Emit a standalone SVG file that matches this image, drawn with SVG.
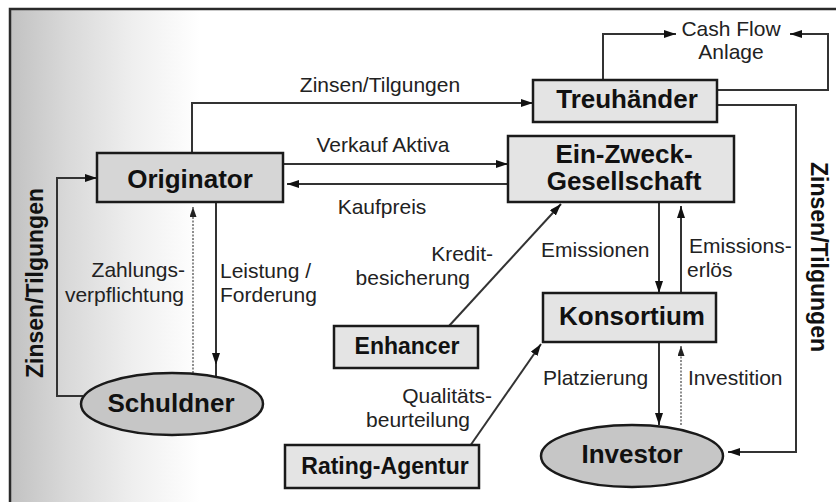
<svg xmlns="http://www.w3.org/2000/svg" width="836" height="502" viewBox="0 0 836 502">
  <defs>
    <linearGradient id="bgGrad" gradientUnits="userSpaceOnUse" x1="11" y1="0" x2="200" y2="0">
      <stop offset="0" stop-color="#c2c2c2"/>
      <stop offset="0.3" stop-color="#d9d9d9"/>
      <stop offset="0.65" stop-color="#efefef"/>
      <stop offset="1" stop-color="#ffffff"/>
    </linearGradient>
    <marker id="arr" viewBox="0 0 12 8" refX="12" refY="4" markerWidth="12" markerHeight="8" markerUnits="userSpaceOnUse" orient="auto">
      <path d="M0,0 L12,4 L0,8 z" fill="#111"/>
    </marker>
    <marker id="arrS" viewBox="0 0 10 7" refX="10" refY="3.5" markerWidth="10" markerHeight="7" markerUnits="userSpaceOnUse" orient="auto">
      <path d="M0,0 L10,3.5 L0,7 z" fill="#222"/>
    </marker>
  </defs>
  <style>
    .box { fill: #e4e4e4; stroke: #1a1a1a; stroke-width: 2.5; }
    .boxd { fill: #d6d6d6; stroke: #1a1a1a; stroke-width: 2.5; }
    .ell { fill: #c6c6c6; stroke: #1a1a1a; stroke-width: 2.5; }
    .nl { font-family: "Liberation Sans", Arial, sans-serif; font-weight: bold; font-size: 26px; fill: #111; text-anchor: middle; }
    .nls { font-family: "Liberation Sans", Arial, sans-serif; font-weight: bold; font-size: 23px; fill: #111; text-anchor: middle; }
    .el { font-family: "Liberation Sans", Arial, sans-serif; font-size: 21px; fill: #222; }
    .vl { font-family: "Liberation Sans", Arial, sans-serif; font-weight: bold; font-size: 23px; fill: #111; text-anchor: middle; }
    .c { fill: none; stroke: #333; stroke-width: 2; marker-end: url(#arr); }
    .ct { fill: none; stroke: #444; stroke-width: 1.2; stroke-dasharray: 2 1.5; marker-end: url(#arrS); }
    .cn { fill: none; stroke: #333; stroke-width: 2; }
  </style>

  <!-- background shading and frame -->
  <rect x="11" y="10" width="200" height="492" fill="url(#bgGrad)"/>
  <path d="M10,502 V9 H836" fill="none" stroke="#2a2a2a" stroke-width="2.5"/>

  <!-- connectors -->
  <g id="connectors">
    <path class="c" d="M192,153 V103 H533"/>
    <path class="c" d="M283,164 H508"/>
    <path class="c" d="M508,184 H287"/>
    <path class="c" d="M603,80 V34 H676"/>
    <path class="c" d="M717,90 H828 V34 H790"/>
    <path class="c" d="M717,105 H796 V452 H728"/>
    <path class="c" d="M659,202 V293"/>
    <path class="c" d="M681,293 V206"/>
    <path class="c" d="M659,342 V425"/>
    <path class="ct" d="M681,425 V346"/>
    <path class="c" d="M449,326 L561,204"/>
    <path class="c" d="M470,446 L541,344"/>
    <path class="c" d="M216,202 V365"/>
    <path class="cn" d="M216,364 V376"/>
    <path class="ct" d="M193,373 V207"/>
    <path class="c" d="M83,396 H57 V178 H97"/>

    <text class="el" x="380" y="92" text-anchor="middle">Zinsen/Tilgungen</text>
    <text class="el" x="383" y="152" text-anchor="middle">Verkauf Aktiva</text>
    <text class="el" x="382" y="214" text-anchor="middle">Kaufpreis</text>
    <text class="el" x="731" y="36" text-anchor="middle">Cash Flow</text>
    <text class="el" x="731" y="59" text-anchor="middle">Anlage</text>
    <text class="el" x="493" y="261" text-anchor="end">Kredit-</text>
    <text class="el" x="470" y="285" text-anchor="end">besicherung</text>
    <text class="el" x="492" y="403" text-anchor="end">Qualitäts-</text>
    <text class="el" x="470" y="427" text-anchor="end">beurteilung</text>
    <text class="el" x="185" y="277" text-anchor="end">Zahlungs-</text>
    <text class="el" x="184" y="302" text-anchor="end">verpflichtung</text>
    <text class="el" x="220" y="278">Leistung /</text>
    <text class="el" x="220" y="302">Forderung</text>
    <text class="el" x="541" y="257">Emissionen</text>
    <text class="el" x="689" y="253">Emissions-</text>
    <text class="el" x="687" y="277">erlös</text>
    <text class="el" x="543" y="385">Platzierung</text>
    <text class="el" x="688" y="385">Investition</text>
    <text class="vl" transform="translate(811,257) rotate(90)">Zinsen/Tilgungen</text>
    <text class="vl" transform="translate(43,283) rotate(-90)">Zinsen/Tilgungen</text>
  </g>

  <!-- nodes -->
  <g id="originator">
    <rect class="boxd" x="97" y="153" width="186" height="49"/>
    <text class="nl" x="190" y="188">Originator</text>
  </g>
  <g id="treuhaender">
    <rect class="box" x="533" y="80" width="184" height="42"/>
    <text class="nl" x="627" y="108">Treuhänder</text>
  </g>
  <g id="ein-zweck-gesellschaft">
    <rect class="box" x="508" y="136" width="226" height="66"/>
    <text class="nl" x="624" y="163">Ein-Zweck-</text>
    <text class="nl" x="624" y="190">Gesellschaft</text>
  </g>
  <g id="konsortium">
    <rect class="box" x="543" y="293" width="173" height="49"/>
    <text class="nl" x="632" y="325">Konsortium</text>
  </g>
  <g id="enhancer">
    <rect class="box" x="334" y="326" width="144" height="42"/>
    <text class="nls" x="407" y="354">Enhancer</text>
  </g>
  <g id="rating-agentur">
    <rect class="box" x="285" y="445" width="194" height="43"/>
    <text class="nls" x="385" y="474">Rating-Agentur</text>
  </g>
  <g id="schuldner">
    <ellipse class="ell" cx="172" cy="404" rx="91" ry="31"/>
    <text class="nl" x="171" y="412">Schuldner</text>
  </g>
  <g id="investor">
    <ellipse class="ell" cx="632" cy="456" rx="91" ry="31"/>
    <text class="nl" x="632" y="463">Investor</text>
  </g>
</svg>
